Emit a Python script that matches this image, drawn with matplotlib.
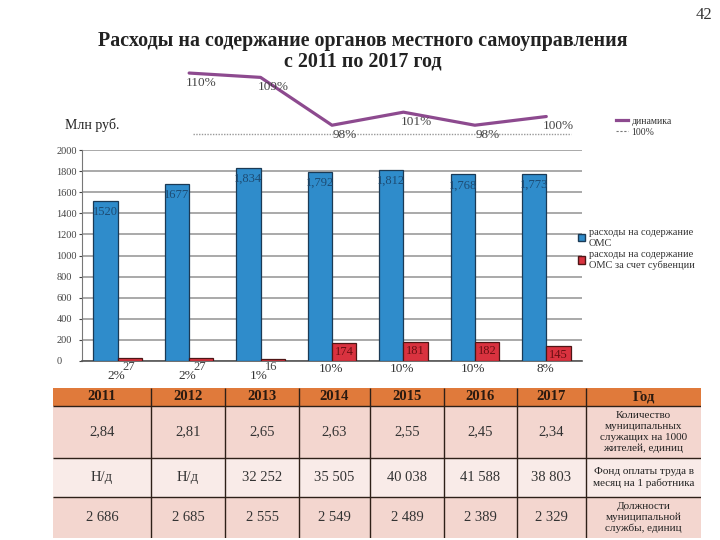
import matplotlib

matplotlib.use("Agg")
import matplotlib.pyplot as plt
from matplotlib.lines import Line2D
from matplotlib.patches import Patch, Rectangle

# ---- data -------------------------------------------------------------
years = ["2011", "2012", "2013", "2014", "2015", "2016", "2017"]
oms_costs = [1520, 1677, 1834, 1792, 1812, 1768, 1773]
oms_labels = ["1520", "1677", "1,834", "1,792", "1,812", "1,768", "1,773"]
subv_costs = [27, 27, 16, 174, 181, 182, 145]
subv_share = ["2%", "2%", "1%", "10%", "10%", "10%", "8%"]

dyn_years = ["2012", "2013", "2014", "2015", "2016", "2017"]
dyn_values = [110, 109, 98, 101, 98, 100]
dyn_ref = 100

yticks = [0, 200, 400, 600, 800, 1000, 1200, 1400, 1600, 1800, 2000]

row_labels = [
    "Количество\nмуниципальных\nслужащих на 1000\nжителей, единиц",
    "Фонд оплаты труда в\nмесяц на 1 работника",
    "Должности\nмуниципальной\nслужбы, единиц",
]
staff_per_1000 = ["2,84", "2,81", "2,65", "2,63", "2,55", "2,45", "2,34"]
salary_fund = ["Н/д", "Н/д", "32 252", "35 505", "40 038", "41 588", "38 803"]
positions = ["2 686", "2 685", "2 555", "2 549", "2 489", "2 389", "2 329"]

# ---- style ------------------------------------------------------------
plt.rcParams["font.family"] = ["Liberation Serif", "DejaVu Serif"]
BLUE = "#2f8ccb"
BLUE_EDGE = "#1b3a55"
RED = "#d9323f"
RED_EDGE = "#4e1616"
PURPLE = "#8d4a8f"
GRID = "#a3a3a3"
TEXT = "#333333"
HEAD = "#e07a3b"
ROW_A = "#f3d6cf"
ROW_B = "#f9ebe8"
BORDER = "#2e2018"

W, H = 720, 540
fig = plt.figure(figsize=(7.2, 5.4), dpi=100)
fig.patch.set_facecolor("white")


def px_axes(x0, y0, x1, y1):
    """Axes placed by pixel box (top-left origin)."""
    return fig.add_axes([x0 / W, 1 - y1 / H, (x1 - x0) / W, (y1 - y0) / H])


fig.text(363 / W, 1 - 41 / H, "Расходы на содержание органов местного самоуправления",
         ha="center", va="center", fontsize=14.4, fontweight="bold", color="#222222")
fig.text(363 / W, 1 - 61 / H, "с 2011 по 2017 год",
         ha="center", va="center", fontsize=14.4, fontweight="bold", color="#222222")
fig.text(712 / W, 1 - 15 / H, "42", ha="right", va="center", fontsize=12, color="#333333")
fig.text(65 / W, 1 - 125 / H, "Млн руб.", ha="left", va="center", fontsize=10, color="#222222")

# ---- bar chart --------------------------------------------------------
ax = px_axes(82, 150, 582, 361)
bw = 0.34
xs = list(range(len(years)))
ax.bar([x - bw / 2 for x in xs], oms_costs, bw, color=BLUE, edgecolor=BLUE_EDGE,
       linewidth=0.9, zorder=3)
ax.bar([x + bw / 2 for x in xs], subv_costs, bw, color=RED, edgecolor=RED_EDGE,
       linewidth=0.9, zorder=3)
ax.set_xlim(-0.5, 6.5)
ax.set_ylim(0, 2000)
ax.set_yticks(yticks)
ax.tick_params(axis="y", length=2.5, pad=16, labelsize=7.5, colors="#444444")
for lab in ax.get_yticklabels():
    lab.set_horizontalalignment("left")
ax.set_xticks([])
ax.grid(True, axis="y", color=GRID, linewidth=1.3, zorder=0)
for side in ("top", "right"):
    ax.spines[side].set_visible(False)
ax.spines["left"].set_color("#777777")
ax.spines["bottom"].set_color("#555555")
ax.spines["bottom"].set_linewidth(1.2)
ax.set_facecolor("white")

for i in xs:
    ax.annotate(oms_labels[i], (i - bw / 2, oms_costs[i]), xytext=(0, -8),
                textcoords="offset points", ha="center", va="center",
                fontsize=9, color="#1d4b73", zorder=4, annotation_clip=False)
    small = subv_costs[i] < 100
    if small:
        ax.annotate(str(subv_costs[i]), (i + bw / 2, 0), xytext=(-1, -4.5),
                    textcoords="offset points", ha="center", va="center",
                    fontsize=9, color="#444444", annotation_clip=False)
    else:
        ax.annotate(str(subv_costs[i]), (i + bw / 2, subv_costs[i]), xytext=(0, -6.5),
                    textcoords="offset points", ha="center", va="center",
                    fontsize=9, color="#6a0f12", zorder=4, annotation_clip=False)
    ax.annotate(subv_share[i], (i, 0), xytext=(-1, -10.5 if small else -6),
                textcoords="offset points", ha="center", va="center",
                fontsize=9.5, color=TEXT, annotation_clip=False)

fig.legend([Patch(facecolor=BLUE, edgecolor=BLUE_EDGE), Patch(facecolor=RED, edgecolor=RED_EDGE)],
           ["расходы на содержание\nОМС", "расходы на содержание\nОМС за счет субвенции"],
           loc="upper left", bbox_to_anchor=(574 / W, 1 - 224 / H), frameon=False,
           fontsize=7.5, handlelength=0.7, handleheight=0.7, handletextpad=0.3,
           labelspacing=0.25, labelcolor="#333333", borderaxespad=0)

# ---- dynamics line ----------------------------------------------------
lax = px_axes(82, 60, 582, 140)
lax.set_xlim(-0.5, 6.5)
lax.set_ylim(94.6, 113)
lax.axis("off")
dyn_x = [years.index(y) for y in dyn_years]
lax.plot(dyn_x, dyn_values, color=PURPLE, linewidth=2.3, solid_capstyle="round")
# the 100% guide is drawn along the bottom of the panel, as on the slide
lax.hlines(94.6 + 1.4, 1.05, 6.35, colors="#999999", linestyles=(0, (1, 1)), linewidth=1)
for x, v in zip(dyn_x, dyn_values):
    lax.annotate(f"{v}%", (x, v), xytext=(9, -7), textcoords="offset points",
                 ha="center", va="center", fontsize=9.5, color="#444444",
                 annotation_clip=False)

fig.legend([Line2D([], [], color=PURPLE, linewidth=2.3),
            Line2D([], [], color="#777777", linestyle=(0, (2, 1.5)), linewidth=0.8)],
           ["динамика", f"{dyn_ref}%"], loc="upper left",
           bbox_to_anchor=(612 / W, 1 - 113 / H), frameon=False, fontsize=7,
           handlelength=1.2, handletextpad=0.4, labelspacing=0.2,
           labelcolor="#333333", borderaxespad=0)

# ---- table ------------------------------------------------------------
col_edges = [53, 151, 225, 299, 370, 444, 517, 586, 701]
row_edges = [388, 406, 458, 497, 538]
tax = px_axes(col_edges[0], row_edges[0], col_edges[-1], row_edges[-1])
tax.set_xlim(col_edges[0], col_edges[-1])
tax.set_ylim(row_edges[-1], row_edges[0])
tax.axis("off")

header = years + ["Год"]
rows = [staff_per_1000 + [row_labels[0]],
        salary_fund + [row_labels[1]],
        positions + [row_labels[2]]]
fills = [HEAD, ROW_A, ROW_B, ROW_A]
for r, cells in enumerate([header] + rows):
    y0, y1 = row_edges[r], row_edges[r + 1]
    tax.add_patch(Rectangle((col_edges[0], y0), col_edges[-1] - col_edges[0], y1 - y0,
                            facecolor=fills[r], edgecolor="none"))
    for c, txt in enumerate(cells):
        cx = (col_edges[c] + col_edges[c + 1]) / 2
        cy = (y0 + y1) / 2
        if r == 0:
            tax.text(cx, cy, txt, ha="center", va="center", fontsize=10.5,
                     fontweight="bold", color="#2a1a10")
        elif c == len(cells) - 1:
            tax.text(cx, cy, txt, ha="center", va="center", fontsize=8,
                     color="#222222", linespacing=1.25)
        else:
            tax.text(cx, cy, txt, ha="center", va="center", fontsize=10.5,
                     color="#333333")
for xe in col_edges[1:-1]:
    tax.vlines(xe, row_edges[0], row_edges[-1], colors=BORDER, linewidth=1)
for ye in row_edges[1:-1]:
    tax.hlines(ye, col_edges[0], col_edges[-1], colors=BORDER, linewidth=1)

fig.savefig("out.png", dpi=100, facecolor="white")
